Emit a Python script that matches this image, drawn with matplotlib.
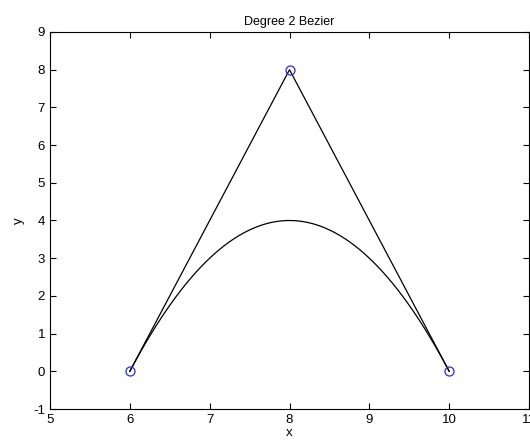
import numpy as np
import matplotlib
matplotlib.use("Agg")
import matplotlib.pyplot as plt

plt.rcParams['font.family'] = ['Liberation Sans', 'DejaVu Sans']
plt.rcParams['axes.unicode_minus'] = False

# Control points of the degree 2 Bezier
ctrl_x = [6, 8, 10]
ctrl_y = [0, 8, 0]

x_ticks = [5, 6, 7, 8, 9, 10, 11]
y_ticks = [-1, 0, 1, 2, 3, 4, 5, 6, 7, 8, 9]

# Bezier curve evaluated from control points
t = np.linspace(0, 1, 200)
P = np.array([ctrl_x, ctrl_y], dtype=float)
curve = ((1 - t) ** 2)[None, :] * P[:, [0]] + (2 * (1 - t) * t)[None, :] * P[:, [1]] + (t ** 2)[None, :] * P[:, [2]]

fig = plt.figure(figsize=(5.30, 4.46), dpi=100)
ax = fig.add_axes([50 / 530, 1 - 409 / 446, 479 / 530, 377 / 446])

ax.plot(ctrl_x, ctrl_y, color='black', linewidth=0.9)
ax.plot(curve[0], curve[1], color='black', linewidth=0.9)
ax.plot(ctrl_x, ctrl_y, linestyle='none', marker='o', markersize=6.5,
        markerfacecolor='none', markeredgecolor='#2b2bd0', markeredgewidth=0.9)

ax.set_xlim(5, 11)
ax.set_ylim(-1, 9)
ax.set_xticks(x_ticks)
ax.set_yticks(y_ticks)
ax.tick_params(direction='in', length=4, labelsize=9.5, top=True, right=True,
               labeltop=False, labelright=False, width=0.8)
for s in ax.spines.values():
    s.set_linewidth(0.8)
ax.set_title('Degree 2 Bezier', fontsize=9, pad=5)
ax.set_xlabel('x', fontsize=9.5, labelpad=1)
ax.set_ylabel('y', fontsize=9.5, labelpad=6)

fig.savefig('out.png', dpi=100)
